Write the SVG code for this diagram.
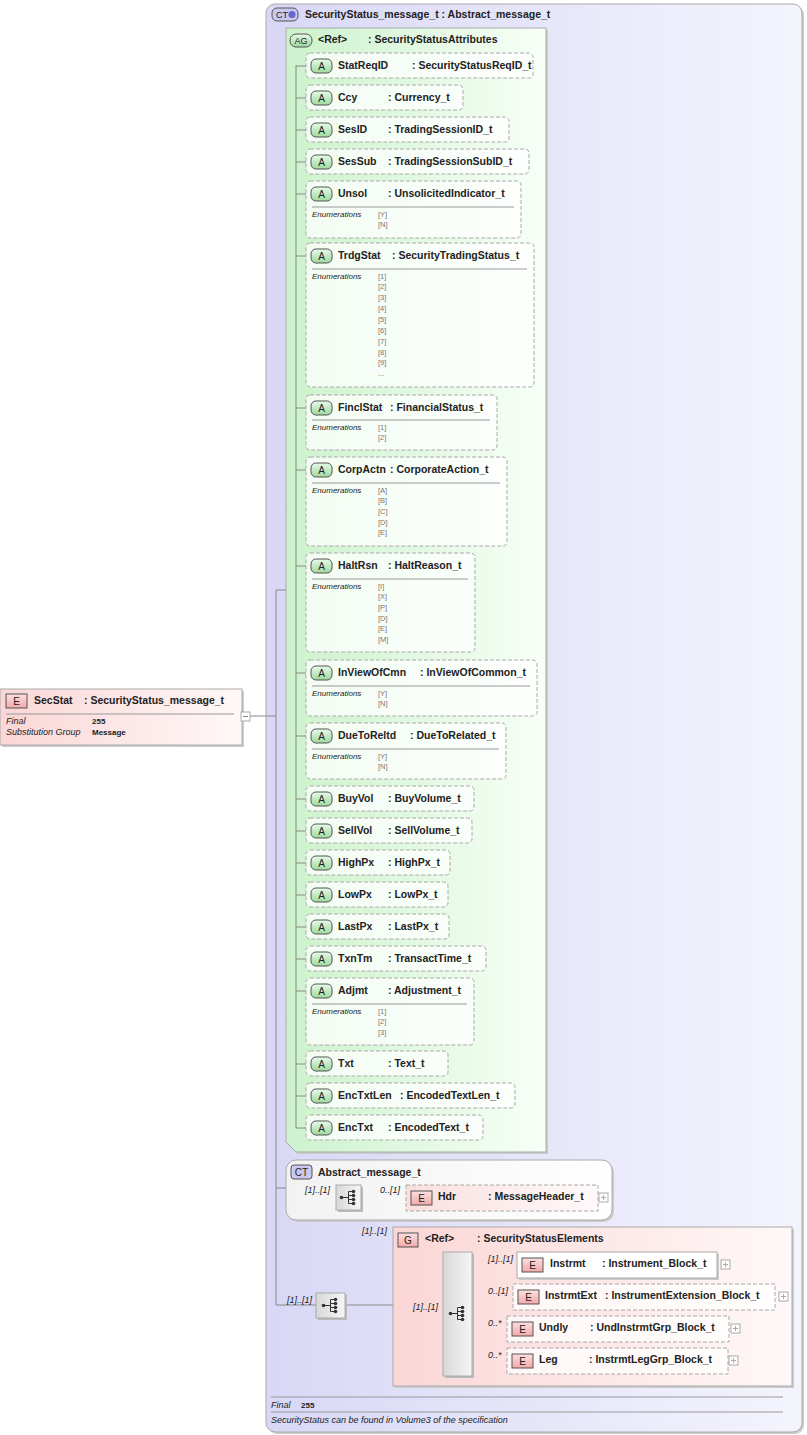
<svg xmlns="http://www.w3.org/2000/svg" width="807" height="1435" viewBox="0 0 807 1435">
<defs>
<linearGradient id="gCT" x1="0" y1="0" x2="1" y2="0"><stop offset="0" stop-color="#d8d8f6"/><stop offset="1" stop-color="#f4f4fd"/></linearGradient>
<linearGradient id="gAG" x1="0" y1="0" x2="1" y2="0"><stop offset="0" stop-color="#ccf2cc"/><stop offset="1" stop-color="#f8fff8"/></linearGradient>
<linearGradient id="gE" x1="0" y1="0" x2="1" y2="0"><stop offset="0" stop-color="#fbd6d6"/><stop offset="1" stop-color="#fff8f8"/></linearGradient>
<linearGradient id="gW" x1="0" y1="0" x2="1" y2="0"><stop offset="0" stop-color="#f2f2f2"/><stop offset="1" stop-color="#ffffff"/></linearGradient>
<linearGradient id="gS" x1="0" y1="0" x2="1" y2="0"><stop offset="0" stop-color="#d8d8d8"/><stop offset="1" stop-color="#f6f6f6"/></linearGradient>
<linearGradient id="gBA" x1="0" y1="0" x2="0" y2="1"><stop offset="0" stop-color="#e8fbe8"/><stop offset="1" stop-color="#9fd89f"/></linearGradient>
<linearGradient id="gBE" x1="0" y1="0" x2="0" y2="1"><stop offset="0" stop-color="#fde0e0"/><stop offset="1" stop-color="#f2a8a8"/></linearGradient>
<g id="seq"><circle cx="-7" cy="0" r="1.8"/><circle cx="5" cy="-6" r="1.8"/><circle cx="5" cy="-2" r="1.8"/><circle cx="5" cy="2" r="1.8"/><circle cx="5" cy="6" r="1.8"/><path d="M-7 0H0M0 -6V6M0 -6H5M0 -2H5M0 2H5M0 6H5" stroke="#333" fill="none"/></g>
</defs>
<style>
text{font-family:"Liberation Sans",Arial,sans-serif;fill:#222}
.n{font-size:10.5px;font-weight:bold}
.h{font-size:10.5px;font-weight:bold}
.en{font-size:8px;font-style:italic}
.ev{font-size:7.5px;fill:#777}
.bl{font-size:10px;text-anchor:middle}
.m{font-size:9px;font-style:italic}
.att{fill:#fff;fill-opacity:.75;stroke:#aaa;stroke-dasharray:4,2}
.ba{fill:url(#gBA);stroke:#555}
.be{fill:url(#gBE);stroke:#555}
.ln{stroke:#888;fill:none}
.sep{stroke:#999}
.pl{fill:#fff;stroke:#aaa}
</style>

<g id="ct-main">
<rect x="268" y="6" width="536" height="1428" rx="9" fill="#ccc"/>
<rect x="266" y="4" width="536" height="1428" rx="9" fill="url(#gCT)" stroke="#aaa"/>
<rect x="272" y="8" width="26" height="13" rx="5" fill="#c8c8f0" stroke="#555"/>
<text x="282" y="18" class="bl" style="font-size:9px">CT</text>
<circle cx="292" cy="14.5" r="3.5" fill="#66c"/>
<text class="h" x="305" y="18">SecurityStatus_message_t : Abstract_message_t</text>
<line x1="271" y1="1397" x2="783" y2="1397" class="sep"/>
<text class="m" x="271" y="1408">Final</text><text x="301" y="1408" style="font-size:8px;font-weight:bold">255</text>
<line x1="271" y1="1412" x2="783" y2="1412" class="sep"/>
<text class="m" x="271" y="1423">SecurityStatus can be found in Volume3 of the specification</text>
</g>

<g id="ag">
<path d="M288 30H548V1154H298L288 1144Z" fill="#ccc"/>
<path d="M286 28H546V1152H296L286 1142Z" fill="url(#gAG)" stroke="#aaa"/>
<rect x="290" y="34" width="22" height="13" rx="6" class="ba"/>
<text x="301" y="44" class="bl" style="font-size:9px">AG</text>
<text class="h" x="318" y="43">&lt;Ref&gt;</text><text class="h" x="368" y="43">: SecurityStatusAttributes</text>
</g>

<g id="connectors">
<path class="ln" d="M250 716H276M276 590V1305M276 590H286M276 1188H286M276 1305H316"/>
<path class="ln" d="M296 65V1128"/>
<path class="ln" d="M296 66H306M296 98H306M296 130H306M296 162H306M296 194H306M296 256H306M296 408H306M296 470H306M296 566H306M296 673H306M296 736H306M296 799H306M296 831H306M296 863H306M296 895H306M296 927H306M296 959H306M296 991H306M296 1064H306M296 1096H306M296 1128H306"/>
<path class="ln" d="M286 1198H336M361 1198H406M346 1305H443M472 1263H517M472 1295H513M472 1327H507M472 1359H507"/>
</g>

<g id="a-StatReqID"><rect class="att" x="306" y="53" width="227" height="25" rx="4"/><rect class="ba" x="311" y="59" width="21" height="14" rx="5"/><text class="bl" x="321.5" y="70">A</text><text class="n" x="338" y="69">StatReqID</text><text class="n" x="412" y="69">: SecurityStatusReqID_t</text></g>
<g id="a-Ccy"><rect class="att" x="306" y="85" width="157" height="25" rx="4"/><rect class="ba" x="311" y="91" width="21" height="14" rx="5"/><text class="bl" x="321.5" y="102">A</text><text class="n" x="338" y="101">Ccy</text><text class="n" x="388" y="101">: Currency_t</text></g>
<g id="a-SesID"><rect class="att" x="306" y="117" width="203" height="25" rx="4"/><rect class="ba" x="311" y="123" width="21" height="14" rx="5"/><text class="bl" x="321.5" y="134">A</text><text class="n" x="338" y="133">SesID</text><text class="n" x="388" y="133">: TradingSessionID_t</text></g>
<g id="a-SesSub"><rect class="att" x="306" y="149" width="223" height="25" rx="4"/><rect class="ba" x="311" y="155" width="21" height="14" rx="5"/><text class="bl" x="321.5" y="166">A</text><text class="n" x="338" y="165">SesSub</text><text class="n" x="388" y="165">: TradingSessionSubID_t</text></g>
<g id="a-Unsol"><rect class="att" x="306" y="181" width="215" height="57" rx="4"/><rect class="ba" x="311" y="187" width="21" height="14" rx="5"/><text class="bl" x="321.5" y="198">A</text><text class="n" x="338" y="197">Unsol</text><text class="n" x="388" y="197">: UnsolicitedIndicator_t</text><line class="sep" x1="312" y1="207" x2="514" y2="207"/><text class="en" x="312" y="217">Enumerations</text><text class="ev" x="378" y="217">[Y]</text><text class="ev" x="378" y="227">[N]</text></g>
<g id="a-TrdgStat"><rect class="att" x="306" y="243" width="228" height="144" rx="4"/><rect class="ba" x="311" y="249" width="21" height="14" rx="5"/><text class="bl" x="321.5" y="260">A</text><text class="n" x="338" y="259">TrdgStat</text><text class="n" x="392" y="259">: SecurityTradingStatus_t</text><line class="sep" x1="312" y1="269" x2="527" y2="269"/><text class="en" x="312" y="279">Enumerations</text><text class="ev" x="378" y="279">[1]</text><text class="ev" x="378" y="289">[2]</text><text class="ev" x="378" y="300">[3]</text><text class="ev" x="378" y="311">[4]</text><text class="ev" x="378" y="322">[5]</text><text class="ev" x="378" y="333">[6]</text><text class="ev" x="378" y="344">[7]</text><text class="ev" x="378" y="355">[8]</text><text class="ev" x="378" y="365">[9]</text><text class="ev" x="378" y="376">...</text></g>
<g id="a-FinclStat"><rect class="att" x="306" y="395" width="191" height="55" rx="4"/><rect class="ba" x="311" y="401" width="21" height="14" rx="5"/><text class="bl" x="321.5" y="412">A</text><text class="n" x="338" y="411">FinclStat</text><text class="n" x="390" y="411">: FinancialStatus_t</text><line class="sep" x1="312" y1="420" x2="490" y2="420"/><text class="en" x="312" y="430">Enumerations</text><text class="ev" x="378" y="430">[1]</text><text class="ev" x="378" y="440">[2]</text></g>
<g id="a-CorpActn"><rect class="att" x="306" y="457" width="201" height="89" rx="4"/><rect class="ba" x="311" y="463" width="21" height="14" rx="5"/><text class="bl" x="321.5" y="474">A</text><text class="n" x="338" y="473">CorpActn</text><text class="n" x="390" y="473">: CorporateAction_t</text><line class="sep" x1="312" y1="483" x2="500" y2="483"/><text class="en" x="312" y="493">Enumerations</text><text class="ev" x="378" y="493">[A]</text><text class="ev" x="378" y="503">[B]</text><text class="ev" x="378" y="514">[C]</text><text class="ev" x="378" y="525">[D]</text><text class="ev" x="378" y="535">[E]</text></g>
<g id="a-HaltRsn"><rect class="att" x="306" y="553" width="169" height="99" rx="4"/><rect class="ba" x="311" y="559" width="21" height="14" rx="5"/><text class="bl" x="321.5" y="570">A</text><text class="n" x="338" y="569">HaltRsn</text><text class="n" x="388" y="569">: HaltReason_t</text><line class="sep" x1="312" y1="579" x2="468" y2="579"/><text class="en" x="312" y="589">Enumerations</text><text class="ev" x="378" y="589">[I]</text><text class="ev" x="378" y="599">[X]</text><text class="ev" x="378" y="610">[P]</text><text class="ev" x="378" y="621">[D]</text><text class="ev" x="378" y="631">[E]</text><text class="ev" x="378" y="642">[M]</text></g>
<g id="a-InViewOfCmn"><rect class="att" x="306" y="660" width="231" height="56" rx="4"/><rect class="ba" x="311" y="666" width="21" height="14" rx="5"/><text class="bl" x="321.5" y="677">A</text><text class="n" x="338" y="676">InViewOfCmn</text><text class="n" x="420" y="676">: InViewOfCommon_t</text><line class="sep" x1="312" y1="686" x2="530" y2="686"/><text class="en" x="312" y="696">Enumerations</text><text class="ev" x="378" y="696">[Y]</text><text class="ev" x="378" y="706">[N]</text></g>
<g id="a-DueToReltd"><rect class="att" x="306" y="723" width="200" height="56" rx="4"/><rect class="ba" x="311" y="729" width="21" height="14" rx="5"/><text class="bl" x="321.5" y="740">A</text><text class="n" x="338" y="739">DueToReltd</text><text class="n" x="410" y="739">: DueToRelated_t</text><line class="sep" x1="312" y1="749" x2="499" y2="749"/><text class="en" x="312" y="759">Enumerations</text><text class="ev" x="378" y="759">[Y]</text><text class="ev" x="378" y="769">[N]</text></g>
<g id="a-BuyVol"><rect class="att" x="306" y="786" width="168" height="25" rx="4"/><rect class="ba" x="311" y="792" width="21" height="14" rx="5"/><text class="bl" x="321.5" y="803">A</text><text class="n" x="338" y="802">BuyVol</text><text class="n" x="388" y="802">: BuyVolume_t</text></g>
<g id="a-SellVol"><rect class="att" x="306" y="818" width="166" height="25" rx="4"/><rect class="ba" x="311" y="824" width="21" height="14" rx="5"/><text class="bl" x="321.5" y="835">A</text><text class="n" x="338" y="834">SellVol</text><text class="n" x="388" y="834">: SellVolume_t</text></g>
<g id="a-HighPx"><rect class="att" x="306" y="850" width="144" height="25" rx="4"/><rect class="ba" x="311" y="856" width="21" height="14" rx="5"/><text class="bl" x="321.5" y="867">A</text><text class="n" x="338" y="866">HighPx</text><text class="n" x="388" y="866">: HighPx_t</text></g>
<g id="a-LowPx"><rect class="att" x="306" y="882" width="142" height="25" rx="4"/><rect class="ba" x="311" y="888" width="21" height="14" rx="5"/><text class="bl" x="321.5" y="899">A</text><text class="n" x="338" y="898">LowPx</text><text class="n" x="388" y="898">: LowPx_t</text></g>
<g id="a-LastPx"><rect class="att" x="306" y="914" width="143" height="25" rx="4"/><rect class="ba" x="311" y="920" width="21" height="14" rx="5"/><text class="bl" x="321.5" y="931">A</text><text class="n" x="338" y="930">LastPx</text><text class="n" x="388" y="930">: LastPx_t</text></g>
<g id="a-TxnTm"><rect class="att" x="306" y="946" width="180" height="25" rx="4"/><rect class="ba" x="311" y="952" width="21" height="14" rx="5"/><text class="bl" x="321.5" y="963">A</text><text class="n" x="338" y="962">TxnTm</text><text class="n" x="388" y="962">: TransactTime_t</text></g>
<g id="a-Adjmt"><rect class="att" x="306" y="978" width="168" height="67" rx="4"/><rect class="ba" x="311" y="984" width="21" height="14" rx="5"/><text class="bl" x="321.5" y="995">A</text><text class="n" x="338" y="994">Adjmt</text><text class="n" x="388" y="994">: Adjustment_t</text><line class="sep" x1="312" y1="1004" x2="467" y2="1004"/><text class="en" x="312" y="1014">Enumerations</text><text class="ev" x="378" y="1014">[1]</text><text class="ev" x="378" y="1024">[2]</text><text class="ev" x="378" y="1035">[3]</text></g>
<g id="a-Txt"><rect class="att" x="306" y="1051" width="142" height="25" rx="4"/><rect class="ba" x="311" y="1057" width="21" height="14" rx="5"/><text class="bl" x="321.5" y="1068">A</text><text class="n" x="338" y="1067">Txt</text><text class="n" x="388" y="1067">: Text_t</text></g>
<g id="a-EncTxtLen"><rect class="att" x="306" y="1083" width="209" height="25" rx="4"/><rect class="ba" x="311" y="1089" width="21" height="14" rx="5"/><text class="bl" x="321.5" y="1100">A</text><text class="n" x="338" y="1099">EncTxtLen</text><text class="n" x="400" y="1099">: EncodedTextLen_t</text></g>
<g id="a-EncTxt"><rect class="att" x="306" y="1115" width="177" height="25" rx="4"/><rect class="ba" x="311" y="1121" width="21" height="14" rx="5"/><text class="bl" x="321.5" y="1132">A</text><text class="n" x="338" y="1131">EncTxt</text><text class="n" x="388" y="1131">: EncodedText_t</text></g>

<g id="secstat">
<rect x="2" y="691" width="242" height="56" fill="#ccc"/>
<rect x="0" y="689" width="242" height="56" fill="url(#gE)" stroke="#aaa"/>
<rect class="be" x="6" y="694" width="21" height="14"/><text class="bl" x="16.5" y="705">E</text>
<text class="n" x="34" y="704">SecStat</text><text class="n" x="84" y="704">: SecurityStatus_message_t</text>
<line class="sep" x1="6" y1="714" x2="234" y2="714"/>
<text class="m" x="6" y="724">Final</text><text x="92" y="724" style="font-size:8px;font-weight:bold">255</text>
<text class="m" x="6" y="735">Substitution Group</text><text x="92" y="735" style="font-size:8px;font-weight:bold">Message</text>
<rect class="pl" x="241" y="712" width="9" height="9"/><path d="M243 716.5H248" stroke="#888"/>
</g>

<g id="ct-abstract">
<rect x="288" y="1162" width="326" height="60" rx="10" fill="#ccc"/>
<rect x="286" y="1160" width="326" height="60" rx="10" fill="url(#gW)" stroke="#aaa"/>
<rect x="291" y="1165" width="21" height="14" rx="3" fill="#c8c8f0" stroke="#555"/><text class="bl" x="301.5" y="1176">CT</text>
<text class="h" x="318" y="1176">Abstract_message_t</text>
<text class="m" x="305" y="1193">[1]..[1]</text><text class="m" x="380" y="1193">0..[1]</text>
<rect x="338" y="1187" width="25" height="25" fill="#bbb"/><rect x="336" y="1185" width="25" height="25" fill="url(#gS)" stroke="#aaa"/>
<use href="#seq" x="348.5" y="1197.5" fill="#333"/>
</g>
<g id="e-Hdr"><rect class="att" x="406" y="1185" width="192" height="26" style="fill:url(#gE)"/><rect class="be" x="411" y="1191" width="21" height="14"/><text class="bl" x="421.5" y="1202">E</text><text class="n" x="438" y="1200">Hdr</text><text class="n" x="488" y="1200">: MessageHeader_t</text><rect class="pl" x="599" y="1193" width="9" height="9"/><path d="M601 1197.5H606M603.5 1195V1200" stroke="#aaa"/></g>

<g id="seq-main"><rect x="318" y="1295" width="29" height="25" fill="#bbb"/><rect x="316" y="1293" width="29" height="25" fill="url(#gS)" stroke="#aaa"/><use href="#seq" x="330.5" y="1305.5" fill="#333"/><text class="m" x="287" y="1303">[1]..[1]</text></g>

<g id="g-elements">
<rect x="395" y="1229" width="399" height="159" fill="#ccc"/>
<rect x="393" y="1227" width="399" height="159" fill="url(#gE)" stroke="#aaa"/>
<text class="m" x="362" y="1234">[1]..[1]</text>
<rect class="be" x="398" y="1233" width="20" height="14"/><text class="bl" x="408" y="1244">G</text>
<text class="h" x="425" y="1242">&lt;Ref&gt;</text><text class="h" x="477" y="1242">: SecurityStatusElements</text>
<text class="m" x="413" y="1310">[1]..[1]</text>
<rect x="445" y="1254" width="29" height="124" fill="#bbb"/><rect x="443" y="1252" width="29" height="124" fill="url(#gS)" stroke="#aaa"/>
<use href="#seq" x="457.5" y="1313.5" fill="#333"/>
<text class="m" x="488" y="1262">[1]..[1]</text><text class="m" x="488" y="1294">0..[1]</text><text class="m" x="488" y="1326">0..*</text><text class="m" x="488" y="1358">0..*</text>
</g>
<g id="e-Instrmt"><rect x="519" y="1254" width="200" height="26" fill="#ccc"/><rect x="517" y="1252" width="200" height="26" fill="#fff" stroke="#aaa"/><rect class="be" x="522" y="1258" width="21" height="14"/><text class="bl" x="532.5" y="1269">E</text><text class="n" x="550" y="1267">Instrmt</text><text class="n" x="602" y="1267">: Instrument_Block_t</text><rect class="pl" x="721" y="1260" width="9" height="9"/><path d="M723 1264.5H728M725.5 1262V1267" stroke="#aaa"/></g>
<g id="e-InstrmtExt"><rect class="att" x="513" y="1284" width="262" height="26" style="fill:#fff"/><rect class="be" x="518" y="1290" width="21" height="14"/><text class="bl" x="528.5" y="1301">E</text><text class="n" x="545" y="1299">InstrmtExt</text><text class="n" x="605" y="1299">: InstrumentExtension_Block_t</text><rect class="pl" x="779" y="1292" width="9" height="9"/><path d="M781 1296.5H786M783.5 1294V1299" stroke="#aaa"/></g>
<g id="e-Undly"><rect class="att" x="507" y="1316" width="222" height="26" style="fill:#fff"/><rect class="be" x="512" y="1322" width="21" height="14"/><text class="bl" x="522.5" y="1333">E</text><text class="n" x="539" y="1331">Undly</text><text class="n" x="590" y="1331">: UndInstrmtGrp_Block_t</text><rect class="pl" x="731" y="1324" width="9" height="9"/><path d="M733 1328.5H738M735.5 1326V1331" stroke="#aaa"/></g>
<g id="e-Leg"><rect class="att" x="507" y="1348" width="221" height="26" style="fill:#fff"/><rect class="be" x="512" y="1354" width="21" height="14"/><text class="bl" x="522.5" y="1365">E</text><text class="n" x="539" y="1363">Leg</text><text class="n" x="589" y="1363">: InstrmtLegGrp_Block_t</text><rect class="pl" x="729" y="1356" width="9" height="9"/><path d="M731 1360.5H736M733.5 1358V1363" stroke="#aaa"/></g>
</svg>
